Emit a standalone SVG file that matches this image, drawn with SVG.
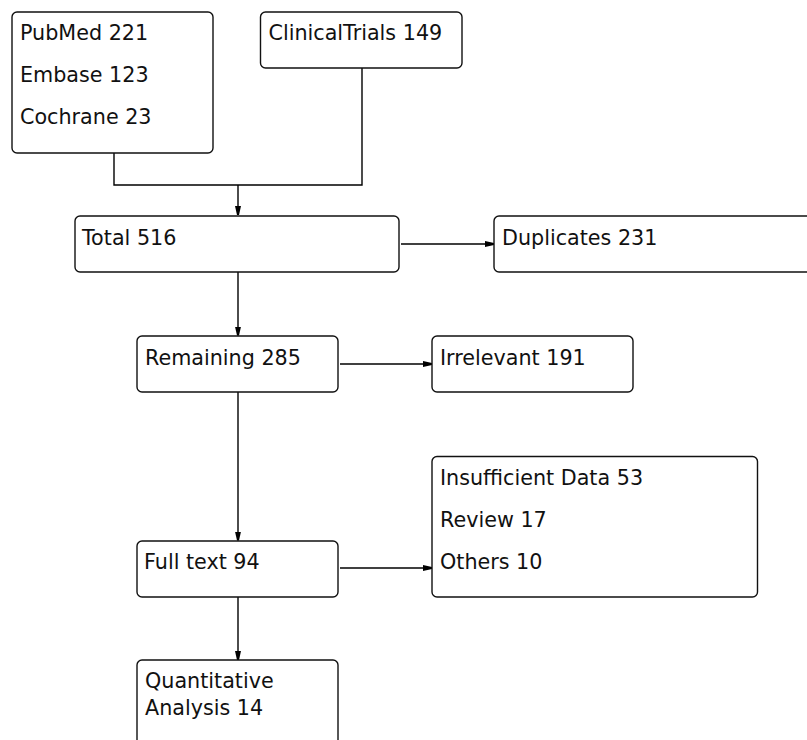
<svg xmlns="http://www.w3.org/2000/svg" width="807" height="740" viewBox="0 0 807 740">
<style>
.box{fill:#fff;stroke:#111;stroke-width:1.4}
.t{font-family:"DejaVu Sans","Liberation Sans",sans-serif;font-size:20.7px;fill:#111}
.c{fill:none;stroke:#000;stroke-width:1.4}
</style>
<defs>
<marker id="ah" markerWidth="9" markerHeight="8" refX="9" refY="4" orient="auto" markerUnits="userSpaceOnUse">
<path d="M0,1 L9,3 L9,5 L0,7 Z" fill="#000"/>
</marker>
</defs>
<rect width="807" height="740" fill="#fff"/>
<g id="connectors">
<path class="c" d="M114,153 V185 H362 V68"/>
<path class="c" d="M238,185 V215" marker-end="url(#ah)"/>
<path class="c" d="M238,272 V335.5" marker-end="url(#ah)"/>
<path class="c" d="M238,392 V540.5" marker-end="url(#ah)"/>
<path class="c" d="M238,597 V660" marker-end="url(#ah)"/>
<path class="c" d="M401,244 H494" marker-end="url(#ah)"/>
<path class="c" d="M340,364 H432" marker-end="url(#ah)"/>
<path class="c" d="M340,568 H432" marker-end="url(#ah)"/>
</g>
<g id="sources">
<rect class="box" x="12" y="12" width="201" height="141" rx="5"/>
<text class="t" x="20" y="40">PubMed 221</text>
<text class="t" x="20" y="82">Embase 123</text>
<text class="t" x="20" y="124">Cochrane 23</text>
</g>
<g id="clinicaltrials">
<rect class="box" x="260.5" y="12" width="201.5" height="56" rx="5"/>
<text class="t" x="268.5" y="40">ClinicalTrials 149</text>
</g>
<g id="total">
<rect class="box" x="75" y="216" width="324" height="56" rx="5"/>
<text class="t" x="82" y="245">Total 516</text>
</g>
<g id="duplicates">
<rect class="box" x="494" y="216" width="330" height="56" rx="5"/>
<text class="t" x="502" y="245">Duplicates 231</text>
</g>
<g id="remaining">
<rect class="box" x="137" y="336" width="201" height="56" rx="5"/>
<text class="t" x="145" y="365">Remaining 285</text>
</g>
<g id="irrelevant">
<rect class="box" x="432" y="336" width="201" height="56" rx="5"/>
<text class="t" x="440" y="365">Irrelevant 191</text>
</g>
<g id="fulltext">
<rect class="box" x="137" y="541" width="201" height="56" rx="5"/>
<text class="t" x="144" y="569">Full text 94</text>
</g>
<g id="excluded">
<rect class="box" x="432" y="456.5" width="325.5" height="140.5" rx="5"/>
<text class="t" x="440" y="485">Insufficient Data 53</text>
<text class="t" x="440" y="527">Review 17</text>
<text class="t" x="440" y="569">Others 10</text>
</g>
<g id="quantitative">
<rect class="box" x="137" y="660" width="201" height="100" rx="5"/>
<text class="t" x="145" y="688">Quantitative</text>
<text class="t" x="145" y="715">Analysis 14</text>
</g>
</svg>
